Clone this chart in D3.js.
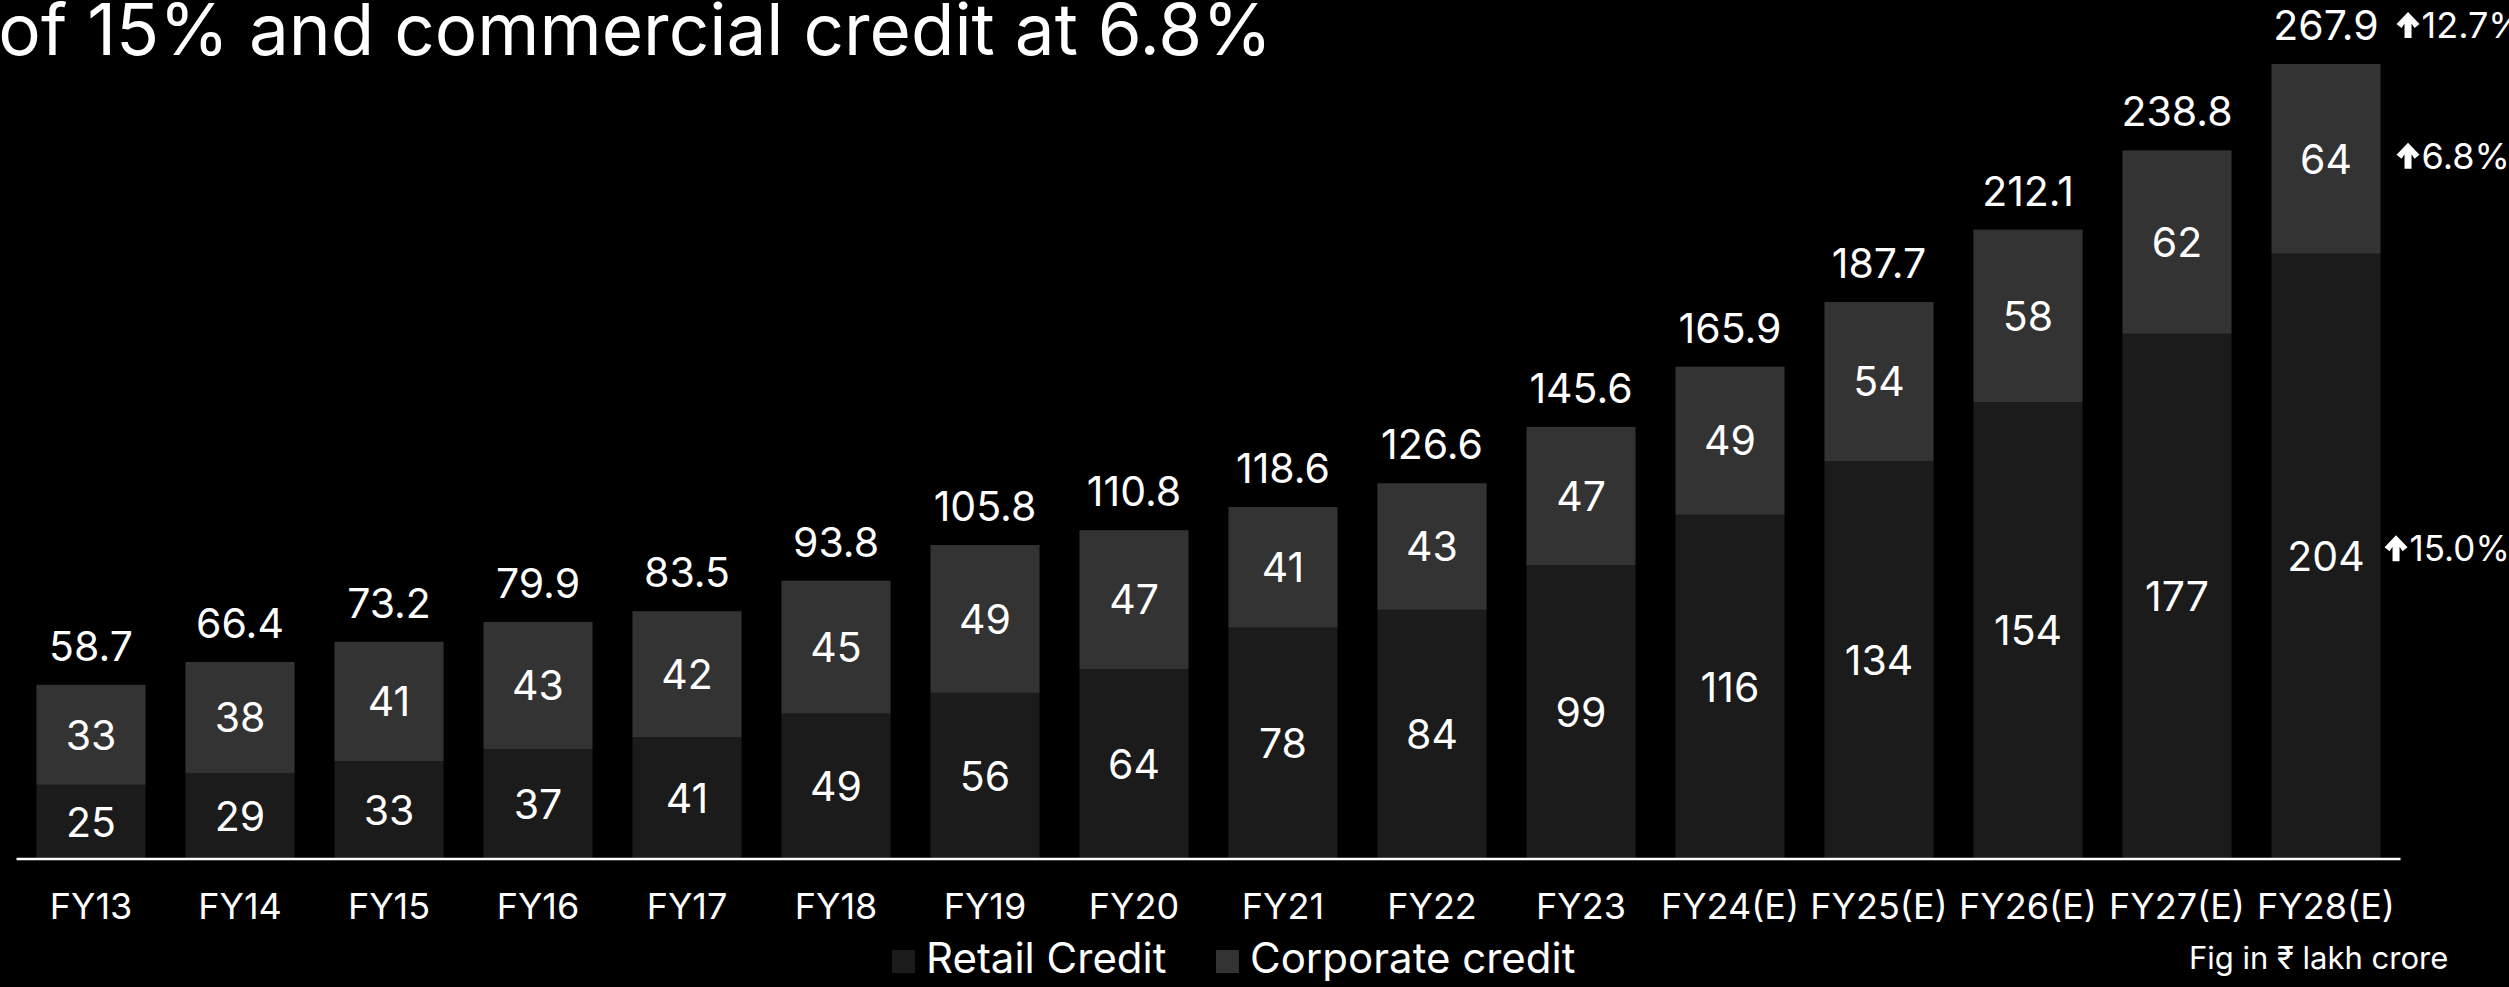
<!DOCTYPE html>
<html>
<head>
<meta charset="utf-8">
<script src="https://cdn.jsdelivr.net/npm/d3@7"></script>
<style>
  html, body { margin: 0; padding: 0; background: #000; overflow: hidden; }
  svg { display: block; }
  text { font-family: Inter, "Noto Sans", sans-serif; fill: #fff; }
</style>
</head>
<body>
<svg id="chart" width="2509" height="987"></svg>
<script>
const categories = ["FY13","FY14","FY15","FY16","FY17","FY18","FY19","FY20","FY21","FY22","FY23","FY24(E)","FY25(E)","FY26(E)","FY27(E)","FY28(E)"];
const retail = [25, 29, 33, 37, 41, 49, 56, 64, 78, 84, 99, 116, 134, 154, 177, 204];
const corporate = [33, 38, 41, 43, 42, 45, 49, 47, 41, 43, 47, 49, 54, 58, 62, 64];
const totals = [58.7, 66.4, 73.2, 79.9, 83.5, 93.8, 105.8, 110.8, 118.6, 126.6, 145.6, 165.9, 187.7, 212.1, 238.8, 267.9];
const growthTotal = "12.7%";
const growthCorporate = "6.8%";
const growthRetail = "15.0%";
const seriesNames = ["Retail Credit", "Corporate credit"];
const titleText = "of 15% and commercial credit at 6.8%";
const noteText = "Fig in \u20B9 lakh crore";

const colors = { retail: "#1b1b1b", corporate: "#333333" };

const svg = d3.select("#chart");
const W = 2509, H = 987;
svg.append("rect").attr("width", W).attr("height", H).attr("fill", "#000");

const x = d3.scaleBand().domain(categories).range([16.5, 2400.5]).paddingInner(0.268).paddingOuter(0.134);
const y = d3.scaleLinear().domain([0, 267.9]).range([859, 64]);

const data = categories.map((c, i) => ({ c, r: retail[i], k: corporate[i], t: totals[i] }));

// retail segment (bottom)
svg.append("g").selectAll("rect").data(data).join("rect")
  .attr("x", d => x(d.c)).attr("width", x.bandwidth())
  .attr("y", d => y(d.r)).attr("height", d => y(0) - y(d.r))
  .attr("fill", colors.retail);

// corporate segment (top), up to the total
svg.append("g").selectAll("rect").data(data).join("rect")
  .attr("x", d => x(d.c)).attr("width", x.bandwidth())
  .attr("y", d => y(d.t)).attr("height", d => y(d.r) - y(d.t))
  .attr("fill", colors.corporate);

const cx = d => x(d.c) + x.bandwidth() / 2;
const valueSize = 41;

// segment labels
svg.append("g").selectAll("text").data(data).join("text")
  .attr("x", cx).attr("y", d => (y(0) + y(d.r)) / 2)
  .attr("dy", "0.36em").attr("text-anchor", "middle")
  .attr("font-size", valueSize).text(d => d.r);

svg.append("g").selectAll("text").data(data).join("text")
  .attr("x", cx).attr("y", d => (y(d.r) + y(d.t)) / 2)
  .attr("dy", "0.36em").attr("text-anchor", "middle")
  .attr("font-size", valueSize).text(d => d.k);

// totals
svg.append("g").selectAll("text").data(data).join("text")
  .attr("x", cx).attr("y", d => y(d.t) - 24)
  .attr("text-anchor", "middle")
  .attr("font-size", valueSize).text(d => d3.format(".1f")(d.t));

// axis
const axis = d3.axisBottom(x).tickSize(0).tickPadding(0);
const gAxis = svg.append("g").attr("transform", `translate(0,${y(0)})`).call(axis);
gAxis.select(".domain").attr("stroke", "#fff").attr("stroke-width", 2.5).attr("d", "M16.5,0H2400.5");
gAxis.selectAll(".tick text").attr("y", 60).attr("dy", 0).attr("font-size", 36)
  .attr("font-family", "Inter, 'Noto Sans', sans-serif").attr("fill", "#fff");

// growth annotations on last bar
const last = data[data.length - 1];
function arrow(xx, yc) {
  const g = svg.append("g").attr("transform", `translate(${xx},${yc})`);
  g.append("path").attr("d", "M0,-1 L11.5,-13 L23,-1 L18,3 L15,-1.5 L15,13 L8,13 L8,-1.5 L5,3 Z").attr("fill", "#fff");
}
function growth(label, xx, yc, fs) {
  arrow(xx, yc);
  svg.append("text").attr("x", xx + 25).attr("y", yc).attr("dy", "0.36em")
    .attr("font-size", fs).text(label);
}
const ax = x(last.c) + x.bandwidth() + 16;
growth(growthTotal, ax, 25, 36);
growth(growthCorporate, ax, (y(last.r) + y(last.t)) / 2 - 3, 36);
growth(growthRetail, ax - 12, (y(0) + y(last.r)) / 2 - 8, 35);

// title (clipped at the left edge)
svg.append("text").attr("x", 1272).attr("y", 55).attr("text-anchor", "end")
  .attr("font-size", 71).text(titleText);

// legend
const leg = svg.append("g");
const legItems = [
  { name: seriesNames[0], color: colors.retail, x: 892 },
  { name: seriesNames[1], color: colors.corporate, x: 1216 }
];
legItems.forEach(it => {
  leg.append("rect").attr("x", it.x).attr("y", 950).attr("width", 23).attr("height", 23).attr("fill", it.color);
  leg.append("text").attr("x", it.x + 34).attr("y", 973).attr("font-size", 42).text(it.name);
});

// note
svg.append("text").attr("x", 2189).attr("y", 969).attr("font-size", 31).text(noteText);
</script>
</body>
</html>
